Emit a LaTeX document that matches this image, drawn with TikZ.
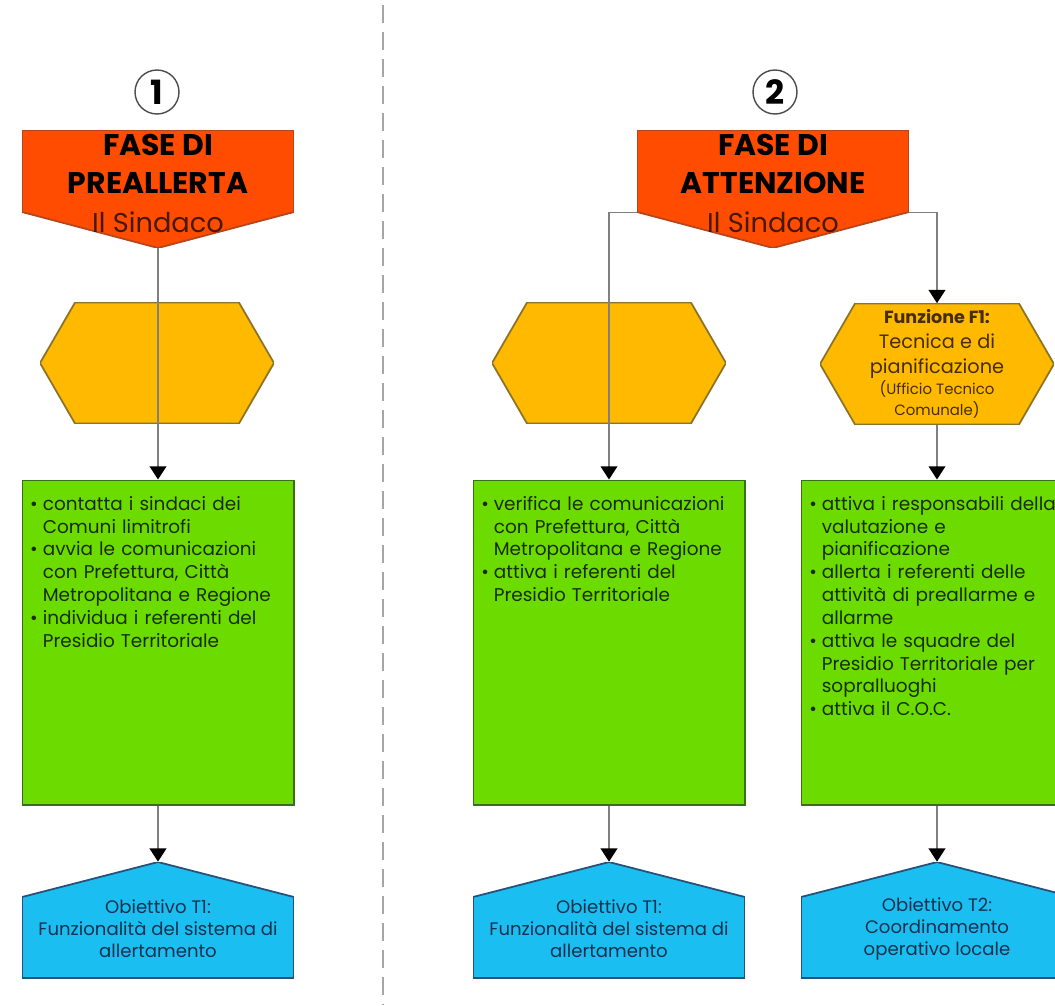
\documentclass[tikz,border=0pt]{standalone}
\usepackage{fontspec}
\setmainfont{Poppins}
\usepackage{enumitem}
\usetikzlibrary{arrows.meta,positioning,calc}
\definecolor{fsRed}   {RGB}{255, 76,  0}
\definecolor{fsRedD}  {RGB}{180, 70, 30}
\definecolor{fsBossT} {RGB}{ 70, 25,  5}
\definecolor{fsGold}  {RGB}{255,186,  0}
\definecolor{fsGoldD} {RGB}{140,115, 40}
\definecolor{fsGoldT} {RGB}{ 70, 45,  0}
\definecolor{fsGreen} {RGB}{108,220,  0}
\definecolor{fsGreenD}{RGB}{ 60,110, 20}
\definecolor{fsGreenT}{RGB}{ 25, 45,  0}
\definecolor{fsBlue}  {RGB}{ 27,190,240}
\definecolor{fsBlueD} {RGB}{ 40, 80,120}
\definecolor{fsBlueT} {RGB}{ 20, 50, 80}
\definecolor{fsLine}  {RGB}{128,128,128}
\setlist[itemize]{label=\textbullet,leftmargin=0.32cm,labelsep=0.1cm,
  itemsep=0pt,topsep=0pt,parsep=0pt,partopsep=0pt}

\begin{document}
\begin{tikzpicture}[x=0.02cm,y=-0.02cm,
  >={Triangle[length=7.5pt,width=9.5pt,color=black]},
  flow/.style={->,draw=fsLine,line width=0.8pt},
  divider/.style={draw=gray!70,line width=1.1pt,dash pattern=on 0.36cm off 0.18cm},
  num/.style={circle,draw=black!70,line width=0.8pt,minimum size=0.88cm,inner sep=0pt,
              font=\fontsize{19}{19}\selectfont\bfseries},
  phase/.style={minimum width=5.44cm,minimum height=2.36cm,inner sep=0pt,
    path picture={\filldraw[fill=fsRed,draw=fsRedD,line width=1pt]
      (path picture bounding box.north west) -- (path picture bounding box.north east)
      -- ([yshift=0.72cm]path picture bounding box.south east) -- (path picture bounding box.south)
      -- ([yshift=0.72cm]path picture bounding box.south west) -- cycle;}},
  title/.style={align=center,inner sep=0pt,font=\fontsize{17}{21.5}\selectfont\bfseries},
  boss/.style={inner sep=0pt,text=fsBossT,font=\fontsize{15.5}{18}\selectfont},
  role/.style={minimum width=4.68cm,minimum height=2.42cm,inner sep=0pt,align=center,text=fsGoldT,
    path picture={\filldraw[fill=fsGold,draw=fsGoldD,line width=1pt]
      (path picture bounding box.west) -- ([xshift=0.7cm]path picture bounding box.north west)
      -- ([xshift=-0.7cm]path picture bounding box.north east) -- (path picture bounding box.east)
      -- ([xshift=-0.7cm]path picture bounding box.south east)
      -- ([xshift=0.7cm]path picture bounding box.south west) -- cycle;}},
  task/.style={draw=fsGreenD,fill=fsGreen,line width=0.6pt,
               minimum width=5.44cm,minimum height=6.5cm,inner sep=0pt},
  tasklist/.style={anchor=north west,inner sep=0pt,text width=5.2cm,align=left,
                   text=fsGreenT,font=\fontsize{10.5}{13}\selectfont},
  goal/.style={minimum width=5.44cm,minimum height=2.32cm,inner sep=0pt,
    path picture={\filldraw[fill=fsBlue,draw=fsBlueD,line width=1pt]
      (path picture bounding box.north) -- ([yshift=-0.70cm]path picture bounding box.north east)
      -- (path picture bounding box.south east) -- (path picture bounding box.south west)
      -- ([yshift=-0.70cm]path picture bounding box.north west) -- cycle;}},
  goaltext/.style={align=center,inner sep=0pt,text=fsBlueT,font=\fontsize{10.3}{12.5}\selectfont}
]
\useasboundingbox (0,0) rectangle (1055,1005);
\clip (0,0) rectangle (1055,1005);

\draw[divider] (383,5) -- (383,1005);

% phase 1
\node[num] (N1) at (157,92) {1};
\node[phase] (P1) at (158,189) {};
\node[title] (T1) at (158,164) {FASE DI\\PREALLERTA};
\node[boss] (S1) at (158,222) {Il Sindaco};

% phase 2
\node[num] (N2) at (775,92) {2};
\node[phase] (P2) at (773,189) {};
\node[title] (T2) at (773,164) {FASE DI\\ATTENZIONE};
\node[boss] (S2) at (773,222) {Il Sindaco};

% roles
\node[role] (H1) at (157,363) {};
\node[role] (H2) at (609,363) {};
\node[role] (H3) at (937,364) {{\fontsize{10}{12.5}\selectfont\bfseries Funzione F1:}\\[2pt]
  {\fontsize{11}{14}\selectfont Tecnica e di}\\[2.5pt]
  {\fontsize{11}{13.5}\selectfont pianificazione}\\
  {\fontsize{8.5}{11}\selectfont (Ufficio Tecnico}\\
  {\fontsize{8.5}{10.5}\selectfont Comunale)}};

% actions
\node[task] (G1) at (158,642.5) {};
\node[task] (G2) at (609,642.5) {};
\node[task] (G3) at (937,642.5) {};

\node[tasklist] (L1) at ([xshift=0.1cm,yshift=-0.15cm]G1.north west) {%
  \begin{itemize}
  \item contatta i sindaci dei\newline Comuni limitrofi
  \item avvia le comunicazioni\newline con Prefettura, Città\newline Metropolitana e Regione
  \item individua i referenti del\newline Presidio Territoriale
  \end{itemize}};
\node[tasklist] (L2) at ([xshift=0.1cm,yshift=-0.15cm]G2.north west) {%
  \begin{itemize}
  \item verifica le comunicazioni\newline con Prefettura, Città\newline Metropolitana e Regione
  \item attiva i referenti del\newline Presidio Territoriale
  \end{itemize}};
\node[tasklist] (L3) at ([xshift=0.1cm,yshift=-0.15cm]G3.north west) {%
  \begin{itemize}
  \item attiva i responsabili della\newline valutazione e\newline pianificazione
  \item allerta i referenti delle\newline attività di preallarme e\newline allarme
  \item attiva le squadre del\newline Presidio Territoriale per\newline sopralluoghi
  \item attiva il C.O.C.
  \end{itemize}};

% objectives
\node[goal] (B1) at (158,920) {};
\node[goal] (B2) at (609,920) {};
\node[goal] (B3) at (937,920) {};
\node[goaltext] (O1) at (158,929) {Obiettivo T1:\\Funzionalità del sistema di\\allertamento};
\node[goaltext] (O2) at (609,929) {Obiettivo T1:\\Funzionalità del sistema di\\allertamento};
\node[goaltext] (O3) at (937,929) {Obiettivo T2:\\Coordinamento\\operativo locale};

% connectors
\draw[flow] (P1.south) -- (G1.north);
\draw[flow] ([yshift=0.72cm]P2.south west) -| (G2.north);
\draw[flow] ([yshift=0.72cm]P2.south east) -| (H3.north);
\draw[flow] (H3.south) -- (G3.north);
\foreach \i in {1,2,3}
  \draw[flow] (G\i.south) -- (B\i.north);
\end{tikzpicture}
\end{document}
